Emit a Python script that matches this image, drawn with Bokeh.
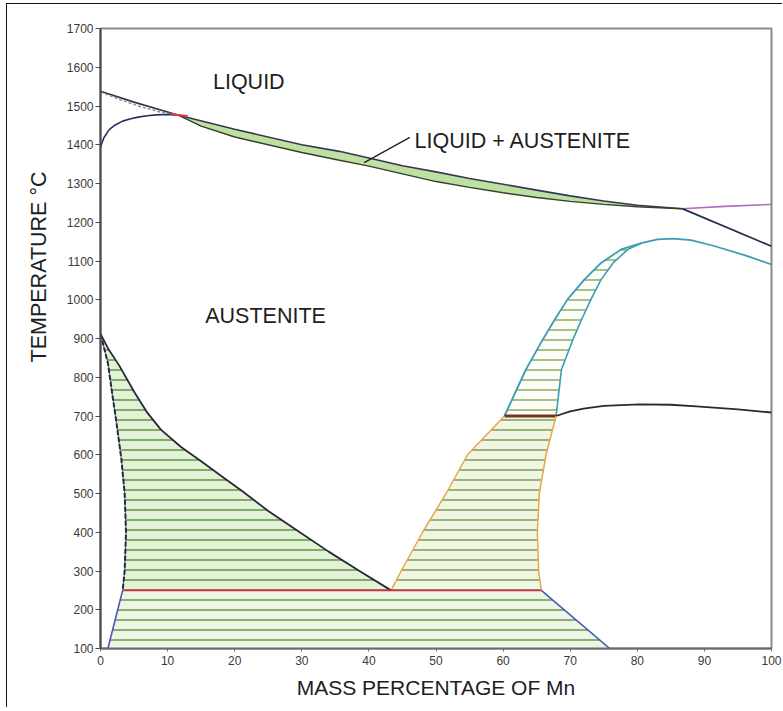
import numpy as np
from bokeh.plotting import figure
from bokeh.models import FixedTicker, Title
from bokeh.core.properties import value
from bokeh.embed import file_html
from bokeh.resources import INLINE

# ---------------- data (mass % Mn, temperature degC) ----------------
liq_x = [0, 5, 11.5, 20, 30, 35.6, 40, 45, 50, 55, 60, 65, 70, 75, 80, 86.7]
liq_t = [1538, 1510, 1477, 1440, 1400, 1383, 1366, 1346, 1330, 1313, 1298, 1283, 1268, 1255, 1244, 1235]

sol_x = [11.5, 15, 20, 30, 35.6, 40, 45, 50, 55, 60, 65, 70, 75, 80, 86.7]
sol_t = [1477, 1448, 1420, 1380, 1360, 1345, 1325, 1305, 1290, 1276, 1264, 1254, 1246, 1240, 1235]

dsol_x = [0, 3, 6, 9, 11.5]
dsol_t = [1536, 1516, 1498, 1484, 1477]

dloop_x = [0, 0.5, 1.3, 2.2, 3.3, 4.5, 5.8, 7, 8.3, 9.5, 11.5]
dloop_t = [1394, 1418, 1439, 1451, 1461, 1467, 1472, 1475, 1477, 1478, 1477]

perit_x = [10.5, 13]
perit_t = [1479, 1474]

pink_x = [86.7, 93, 100]
pink_t = [1235, 1241, 1246]

dark_hi_x = [86.7, 100]
dark_hi_t = [1235, 1138]

cyan_out_x = [60.2, 61.8, 63.4, 65.9, 67.7, 69.6, 72.1, 74.6, 77.6, 80.6, 83, 85.3, 88, 91.2, 96.2, 100]
cyan_out_t = [700, 760, 820, 897, 949, 1001, 1052, 1095, 1130, 1146, 1156, 1158, 1154, 1140, 1114, 1091]

cyan_in_x = [67.9, 68.3, 68.7, 70.4, 71.7, 73.1, 74.6, 76.4, 78.6, 80.6]
cyan_in_t = [700, 760, 820, 897, 949, 1001, 1052, 1095, 1130, 1146]

mid_dark_x = [67.9, 70, 72, 75, 80.3, 85, 88.8, 95, 100]
mid_dark_t = [700, 712, 719, 726, 730, 729, 725, 717, 709]

h700_x = [60.2, 67.9]
h700_t = [700, 700]

or_left_x = [43.3, 44.8, 48, 51.5, 54.7, 60.2]
or_left_t = [250, 300, 400, 500, 600, 700]

or_right_x = [65.7, 65.3, 65.1, 65.4, 66.4, 67.9]
or_right_t = [250, 300, 400, 500, 600, 700]

a3_x = [0, 1.2, 2.8, 5.1, 7, 9, 12, 15, 18, 21.2, 25, 29.7, 34, 38.6, 43.3]
a3_t = [912, 872, 830, 760, 708, 665, 620, 583, 545, 505, 455, 400, 350, 300, 250]

ldash_x = [0, 1.1, 1.8, 2.4, 3.1, 3.6, 3.8, 3.6, 3.3]
ldash_t = [912, 837, 751, 680, 590, 500, 400, 300, 250]

h250_x = [3.3, 65.7]
h250_t = [250, 250]

blue_l_x = [3.3, 1.1]
blue_l_t = [250, 100]
blue_r_x = [65.7, 75.9]
blue_r_t = [250, 100]

leader_x = [39.3, 46.1]
leader_t = [1354, 1419]

x_ticks = [0, 10, 20, 30, 40, 50, 60, 70, 80, 90, 100]
y_ticks = [100, 200, 300, 400, 500, 600, 700, 800, 900, 1000, 1100, 1200, 1300, 1400, 1500, 1600, 1700]

FONT = "Liberation Sans"

p = figure(width=776, height=704, x_range=(0, 100), y_range=(100, 1700),
           output_backend="svg", toolbar_location=None,
           min_border_left=93, min_border_top=24, min_border_right=12, min_border_bottom=60)
p.styles = {"margin-left": "6px", "margin-top": "3px",
            "border-left": "1px solid #111", "border-top": "1px solid #111"}
p.grid.visible = False
p.background_fill_color = "white"
p.border_fill_color = "white"
p.outline_line_color = "#8a8a8a"
p.outline_line_width = 2

# ---------------- filled regions ----------------
band_mask = [i for i, x in enumerate(liq_x) if x >= 11.5]
band_xs = [liq_x[i] for i in band_mask] + sol_x[::-1]
band_ts = [liq_t[i] for i in band_mask] + sol_t[::-1]
p.patch(band_xs, band_ts, fill_color="#bde1a2", line_color=None)

HATCH = dict(hatch_pattern="horizontal_line", hatch_scale=10, hatch_weight=1.5)

regA_x = ldash_x + a3_x[::-1]
regA_t = ldash_t + a3_t[::-1]
p.patch(regA_x, regA_t, fill_color="#e3f1d6", line_color=None, hatch_color="#5f9444", **HATCH)

regB_x = blue_l_x[::-1] + blue_r_x
regB_t = blue_l_t[::-1] + blue_r_t
p.patch(regB_x, regB_t, fill_color="#edf6e4", line_color=None, hatch_color="#6a9a4c", **HATCH)

regC_x = or_left_x + or_right_x[::-1]
regC_t = or_left_t + or_right_t[::-1]
p.patch(regC_x, regC_t, fill_color="#f0f6e2", line_color=None, hatch_color="#7d9c5c", **HATCH)

n_m = cyan_out_x.index(80.6) + 1
regD_x = cyan_out_x[:n_m] + cyan_in_x[::-1]
regD_t = cyan_out_t[:n_m] + cyan_in_t[::-1]
p.patch(regD_x, regD_t, fill_color="#fbfdf6", line_color=None, hatch_color="#8eaa62", **HATCH)

# ---------------- boundary lines ----------------
p.line(liq_x, liq_t, line_color="#3a3550", line_width=1.6)
p.line(sol_x, sol_t, line_color="#33402a", line_width=1.4)
p.line(dsol_x, dsol_t, line_color="#8a8a8a", line_width=1.4, line_dash="3 2")
p.line(dloop_x, dloop_t, line_color="#2c2c60", line_width=1.6)
p.line(perit_x, perit_t, line_color="#e03a3a", line_width=2)
p.line(pink_x, pink_t, line_color="#b06cc0", line_width=1.6)
p.line(dark_hi_x, dark_hi_t, line_color="#2a2a48", line_width=1.8)
p.line(cyan_out_x, cyan_out_t, line_color="#3a9db5", line_width=1.8)
p.line(cyan_in_x, cyan_in_t, line_color="#3a9db5", line_width=1.6)
p.line(mid_dark_x, mid_dark_t, line_color="#2a2a2a", line_width=1.8)
p.line(h700_x, h700_t, line_color="#7a3020", line_width=3)
p.line(or_left_x, or_left_t, line_color="#e8a84a", line_width=1.5)
p.line(or_right_x, or_right_t, line_color="#e8a84a", line_width=1.5)
p.line(a3_x, a3_t, line_color="#26283a", line_width=1.8)
p.line(ldash_x, ldash_t, line_color="#5060b0", line_width=1)
p.line(ldash_x, ldash_t, line_color="#2a2a3a", line_width=2, line_dash="5 2")
p.line(h250_x, h250_t, line_color="#c8344a", line_width=1.6)
p.line(blue_l_x, blue_l_t, line_color="#4a56b8", line_width=1.6)
p.line(blue_r_x, blue_r_t, line_color="#4a56b8", line_width=1.6)
p.line(leader_x, leader_t, line_color="#222222", line_width=1.3)

# ---------------- region labels ----------------
lab_font = dict(text_font=value(FONT), text_font_size="21.5px", text_color="#1e1e1e",
                text_baseline="middle")
p.text(x=[22.1], y=[1563], text=["LIQUID"], text_align="center", **lab_font)
p.text(x=[24.6], y=[959], text=["AUSTENITE"], text_align="center", **lab_font)
p.text(x=[46.8], y=[1409], text=["LIQUID + AUSTENITE"], text_align="left", **lab_font)

# ---------------- axes ----------------
p.xaxis.ticker = FixedTicker(ticks=x_ticks)
p.yaxis.ticker = FixedTicker(ticks=y_ticks)
for ax in (p.xaxis, p.yaxis):
    ax.minor_tick_line_color = None
    ax.major_tick_in = 0
    ax.major_label_text_font = FONT
    ax.major_label_text_font_size = "12px"
    ax.major_label_text_color = "#3a3a3a"
    ax.axis_line_width = 2
p.yaxis.axis_line_color = "#4a4a4a"
p.yaxis.major_tick_line_color = "#4a4a4a"
p.yaxis.major_tick_out = 5
p.yaxis.major_label_standoff = 2
p.xaxis.axis_line_color = "#6a6a6a"
p.xaxis.major_tick_line_color = "#6a6a6a"
p.xaxis.major_tick_out = 3
p.xaxis.major_label_standoff = 4

p.xaxis.axis_label = "MASS PERCENTAGE OF Mn"
p.xaxis.axis_label_text_font = FONT
p.xaxis.axis_label_text_font_size = "21px"
p.xaxis.axis_label_text_font_style = "normal"
p.xaxis.axis_label_text_color = "#1e1e1e"
p.xaxis.axis_label_standoff = 8

p.add_layout(Title(text="TEMPERATURE °C", align="right", offset=143, standoff=26,
                   text_font=FONT, text_font_size="21.5px", text_font_style="normal",
                   text_color="#1e1e1e"), "left")

open("out.html", "w").write(file_html(p, INLINE))
